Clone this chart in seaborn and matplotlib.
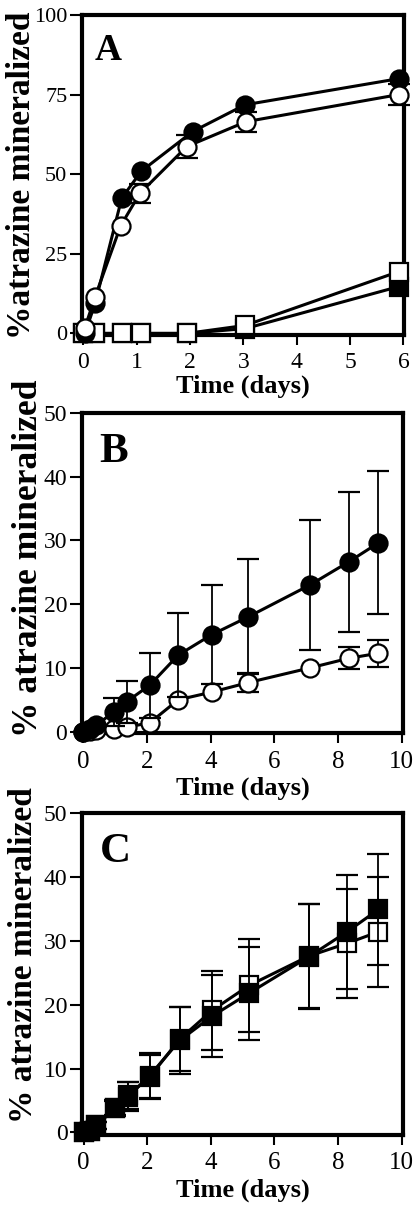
import numpy as np
import pandas as pd
import matplotlib
matplotlib.use("Agg")
import matplotlib.pyplot as plt
import seaborn as sns

# ---------------- data ----------------
# Panel A
A_time_fc = [0.03, 0.22, 0.72, 1.09, 2.05, 3.03, 5.91]
A_filled_circ = [0.0, 9.4, 42.5, 51.0, 63.4, 71.8, 80.0]
A_time_oc = [0.03, 0.22, 0.70, 1.06, 1.94, 3.05, 5.91]
A_open_circ = [1.8, 11.5, 33.8, 44.0, 58.7, 66.5, 75.0]
A_open_circ_err = [0.0, 0.0, 0.0, 3.0, 3.7, 3.1, 3.2]
A_time_sq = [0.0, 0.22, 0.72, 1.09, 1.94, 3.03, 5.91]
A_filled_sq = [0.0, 0.0, 0.0, 0.0, 0.0, 1.5, 14.7]
A_open_sq = [0.0, 0.0, 0.0, 0.0, 0.0, 2.5, 19.4]

# Panel B
B_time = [0.0, 0.2, 0.4, 0.96, 1.36, 2.09, 2.98, 4.03, 5.18, 7.12, 8.33, 9.27]
B_filled = [0.0, 0.5, 1.0, 3.1, 4.7, 7.3, 12.0, 15.2, 18.0, 23.0, 26.6, 29.6]
B_filled_err = [0.0, 0.0, 0.0, 2.2, 3.3, 5.1, 6.6, 7.8, 9.0, 10.2, 11.0, 11.2]
B_open = [0.0, 0.1, 0.3, 0.5, 0.7, 1.4, 5.0, 6.2, 7.7, 10.0, 11.5, 12.3]
B_open_err = [0.0, 0.0, 0.0, 0.0, 0.0, 0.0, 0.0, 0.0, 1.5, 0.0, 1.7, 2.1]

# Panel C
C_time = [0.0, 0.2, 0.4, 0.99, 1.40, 2.08, 3.02, 4.04, 5.20, 7.08, 8.28, 9.27]
C_filled = [0.0, 0.3, 1.1, 3.75, 5.6, 8.9, 14.4, 18.2, 21.8, 27.5, 31.4, 34.9]
C_filled_err = [0.0, 0.0, 0.5, 1.2, 2.3, 3.5, 5.2, 6.4, 7.3, 8.2, 8.9, 8.7]
C_open = [0.0, 0.3, 1.1, 3.9, 5.8, 8.7, 14.6, 19.1, 23.0, 27.6, 29.6, 31.4]
C_open_err = [0.0, 0.0, 0.5, 1.2, 2.1, 3.5, 5.0, 6.2, 7.3, 8.2, 8.5, 8.6]

A_yticks = [0, 25, 50, 75, 100]
A_xticks = [0, 1, 2, 3, 4, 5, 6]
BC_yticks = [0, 10, 20, 30, 40, 50]
BC_xticks = [0, 2, 4, 6, 8, 10]

xlabel_text = "Time (days)"
ylabel_A = "%atrazine mineralized"
ylabel_BC = "% atrazine mineralized"

# ---------------- style ----------------
sns.set_theme(style="ticks")
plt.rcParams["font.family"] = ["Liberation Serif", "DejaVu Serif"]
plt.rcParams["axes.linewidth"] = 3.0

W, H = 420, 1210
fig = plt.figure(figsize=(W / 100, H / 100), dpi=100)
fig.patch.set_facecolor("white")


def px_axes(left, top, right, bottom):
    return fig.add_axes([left / W, 1 - bottom / H, (right - left) / W, (bottom - top) / H])


axA = px_axes(82, 15, 404, 335)
axB = px_axes(81.7, 412.7, 403.3, 733.3)
axC = px_axes(82, 813, 403.3, 1135)

LW = 2.2
MS = 13
MEW = 1.6


def series(ax, x, y, marker, filled, z, err=None):
    df = pd.DataFrame({"x": x, "y": y})
    if err is not None:
        e = np.asarray(err)
        mask = e > 0
        ax.errorbar(np.asarray(x)[mask], np.asarray(y)[mask], yerr=e[mask], fmt="none",
                    ecolor="black", elinewidth=1.3, capsize=8, capthick=1.6,
                    zorder=z - 0.5, clip_on=False)
    sns.lineplot(data=df, x="x", y="y", ax=ax, sort=False, estimator=None,
                 color="black", linewidth=LW, marker=marker, markersize=MS,
                 markerfacecolor="black" if filled else "white",
                 markeredgecolor="black", markeredgewidth=MEW, zorder=z,
                 legend=False, clip_on=False)


# Panel A
series(axA, A_time_sq, A_filled_sq, "s", True, 3)
series(axA, A_time_sq, A_open_sq, "s", False, 4)
series(axA, A_time_fc, A_filled_circ, "o", True, 5)
series(axA, A_time_oc, A_open_circ, "o", False, 6, A_open_circ_err)

# Panel B
series(axB, B_time, B_open, "o", False, 4, B_open_err)
series(axB, B_time, B_filled, "o", True, 6, B_filled_err)

# Panel C
series(axC, C_time, C_open, "s", False, 4, C_open_err)
series(axC, C_time, C_filled, "s", True, 6, C_filled_err)


def style_axes(ax, xlim, ylim, xticks, yticks, xfs, yfs):
    ax.set_xlim(*xlim)
    ax.set_ylim(*ylim)
    ax.set_xticks(xticks)
    ax.set_yticks(yticks)
    ax.set_xticklabels([str(t) for t in xticks])
    ax.set_yticklabels([str(t) for t in yticks])
    for s in ax.spines.values():
        s.set_visible(True)
        s.set_linewidth(3.0)
        s.set_color("black")
    ax.tick_params(axis="x", direction="out", length=7.5, width=1.5, pad=5,
                   labelsize=xfs, colors="black", top=False)
    ax.tick_params(axis="y", direction="out", length=9, width=1.5, pad=1.5,
                   labelsize=yfs, colors="black", right=False)
    ax.set_facecolor("white")
    ax.grid(False)


style_axes(axA, (-0.025, 6.01), (-0.5, 100), A_xticks, A_yticks, 17, 16)
style_axes(axB, (-0.05, 10.05), (-0.25, 50), BC_xticks, BC_yticks, 18, 17)
style_axes(axC, (-0.05, 10.05), (-0.4, 50), BC_xticks, BC_yticks, 18, 17)


def labels(ax, ylab, ysize, ylx, yly, xly, letter, lsize, lx, ly):
    ax.set_xlabel(xlabel_text, fontsize=19, fontweight="bold", color="black")
    ax.xaxis.label.set_verticalalignment("baseline")
    ax.xaxis.set_label_coords(0.5, xly)
    ax.set_ylabel(ylab, fontsize=ysize, fontweight="bold", color="black")
    ax.yaxis.label.set_verticalalignment("baseline")
    ax.yaxis.set_label_coords(ylx, yly)
    ax.text(lx, ly, letter, transform=ax.transAxes, fontsize=lsize,
            fontweight="bold", ha="left", va="baseline", color="black")


labels(axA, ylabel_A, 24, -0.161, 0.5, -0.181, "A", 27, 0.04, 0.86)
labels(axB, ylabel_BC, 25.6, -0.139, 0.545, -0.192, "B", 31, 0.056, 0.847)
labels(axC, ylabel_BC, 24, -0.156, 0.559, -0.192, "C", 31, 0.056, 0.847)

fig.savefig("out.png", dpi=100, facecolor="white")
